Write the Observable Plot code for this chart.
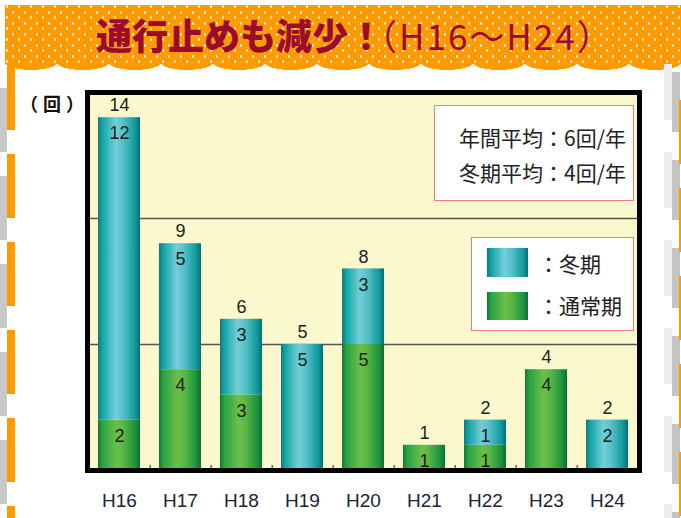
<!DOCTYPE html>
<html><head><meta charset="utf-8">
<script src="https://cdn.jsdelivr.net/npm/d3@7"></script>
<script src="https://cdn.jsdelivr.net/npm/@observablehq/plot@0.6"></script>
<style>
body{margin:0;background:#fff;width:681px;height:518px;overflow:hidden;position:relative;font-family:"Noto Sans CJK JP",sans-serif;}
.abs{position:absolute;}
#banner{left:5px;top:5px;width:676px;height:59px;background-color:#ff9a00;
 background-image:radial-gradient(circle, rgba(255,255,255,0.9) 0.9px, transparent 1.5px),radial-gradient(circle, rgba(255,255,255,0.9) 0.9px, transparent 1.5px);
 background-size:12px 11px;background-position:2px 2px,8px 7px;}
#scallop{left:5px;top:63px;width:676px;height:7px;background-image:radial-gradient(ellipse 26px 7px at 50% 0,#ff9a00 96%,transparent 100%);background-size:52px 7px;}
#title{left:96px;top:14px;white-space:nowrap;font-size:36px;line-height:40px;color:#9a0b2d;}
#title b{font-weight:900;}
#title span{font-size:35px;letter-spacing:2px;margin-left:-22px;}
#leftline{left:7px;top:66px;width:8px;height:452px;background:repeating-linear-gradient(to bottom,#ff9a00 0 64px,transparent 64px 88px);}
#leftgray{left:0;top:88px;width:7px;height:430px;background:repeating-linear-gradient(to bottom,#c8c8c8 0 64px,transparent 64px 88px);}
#rightgray{left:672px;top:72px;width:8px;height:446px;background:repeating-linear-gradient(to bottom,#c4c4c4 0 60px,transparent 60px 88px);}
#rightgray2{left:664px;top:64px;width:8px;height:454px;background:repeating-linear-gradient(to bottom,#eeeeee 0 56px,transparent 56px 88px);}
#rightline{left:679px;top:100px;width:2px;height:418px;background:repeating-linear-gradient(to bottom,#ff9a00 0 64px,transparent 64px 88px);}
#unit{left:20px;top:92px;font-size:18px;font-weight:700;line-height:22px;color:#111;letter-spacing:5px;}
.box{background:#fff;border:1.5px solid #ef7d7d;box-sizing:border-box;}
#box1{left:434px;top:105px;width:200px;height:96px;}
#box2{left:471px;top:237px;width:163px;height:94px;}
.ltxt{font-size:21px;line-height:26px;color:#222;white-space:nowrap;}
.sw{width:41px;height:29px;}
#chart{left:0;top:70px;}
</style></head>
<body>
<div id="banner" class="abs"></div>
<div id="scallop" class="abs"></div>
<div id="title" class="abs"><b>通行止めも減少！</b><span>（H16〜H24）</span></div>
<div id="leftgray" class="abs"></div>
<div id="leftline" class="abs"></div>
<div id="rightgray2" class="abs"></div>
<div id="rightgray" class="abs"></div>
<div id="rightline" class="abs"></div>
<div id="unit" class="abs">（回）</div>
<div id="chart" class="abs"></div>
<div id="box1" class="abs box"></div>
<div class="abs ltxt" style="right:55px;top:124px;">年間平均：6回/年</div>
<div class="abs ltxt" style="right:55px;top:159px;">冬期平均：4回/年</div>
<div id="box2" class="abs box"></div>
<div class="abs sw" style="left:487px;top:248px;background:linear-gradient(to right,#0a7b7d 0%,#13a3a5 10%,#72cfd7 42%,#56c0c8 60%,#119a9c 88%,#086f70 100%);"></div>
<div class="abs sw" style="left:487px;top:292px;height:28px;background:linear-gradient(to right,#0d7a36 0%,#2aa243 10%,#6cc04a 45%,#5bb645 60%,#1e9440 88%,#0b6e32 100%);"></div>
<div class="abs ltxt" style="left:538px;top:250px;">：冬期</div>
<div class="abs ltxt" style="left:538px;top:292px;">：通常期</div>
<script>
const years = ["H16","H17","H18","H19","H20","H21","H22","H23","H24"];
const normalValues = [2,4,3,0,5,1,1,4,0];   // 通常期
const winterValues = [12,5,3,5,3,0,1,0,2];  // 冬期
const totalValues = [14,9,6,5,8,1,2,4,2];
const seriesNames = ["通常期","冬期"];
const gridValues = [5,10];

const rows = [];
years.forEach((y,i)=>{
  rows.push({year:y, series:"通常期", value:normalValues[i]});
  rows.push({year:y, series:"冬期", value:winterValues[i]});
});
const totals = years.map((y,i)=>({year:y, total:totalValues[i]}));

const W=681,H=448,ML=87,MR=42,MT=22,MB=48;
const step=(W-ML-MR)/years.length;
const numFont='"Liberation Sans", Arial, sans-serif';

const plot = Plot.plot({
  width:W, height:H, marginLeft:ML, marginRight:MR, marginTop:MT, marginBottom:MB,
  style:{background:"transparent", fontFamily:numFont, fontSize:"18px", overflow:"visible"},
  x:{domain:years, paddingInner:0.31, paddingOuter:0.155, axis:null},
  y:{domain:[0,15], axis:null},
  color:{type:"ordinal", domain:seriesNames, range:["url(#gGreen)","url(#gTeal)"]},
  marks:[
    Plot.frame({fill:"#fbf8cd", stroke:null}),
    Plot.ruleY(gridValues,{stroke:"#555", strokeWidth:1.5}),
    Plot.barY(rows,{x:"year", y:"value", fill:"series", z:"series", order:seriesNames}),
    Plot.ruleX(years.slice(0,-1),{x:d=>d, dx:step/2, insetTop:H-MT-MB-5, stroke:"#222", strokeWidth:1}),
    Plot.text(rows, Plot.stackY2({x:"year", y:"value", z:"series", order:seriesNames, text:d=>d.value>0?String(d.value):"", dy:16, fill:"#222", fontSize:18})),
    Plot.text(totals,{x:"year", y:"total", text:"total", dy:-12, fill:"#222", fontSize:18}),
    Plot.axisX({tickSize:0, tickPadding:23, fill:"#1d2236", fontSize:19, fontFamily:numFont, label:null}),
    Plot.frame({stroke:"#000", strokeWidth:5})
  ]
});

const svg = d3.select(plot);
const defs = svg.insert("defs",":first-child");
function grad(id, stops){
  const g = defs.append("linearGradient").attr("id",id).attr("x1",0).attr("x2",1).attr("y1",0).attr("y2",0);
  stops.forEach(([o,c])=>g.append("stop").attr("offset",o).attr("stop-color",c));
}
grad("gTeal",[[0,"#0a7b7d"],[0.1,"#13a3a5"],[0.42,"#72cfd7"],[0.6,"#56c0c8"],[0.88,"#119a9c"],[1,"#086f70"]]);
grad("gGreen",[[0,"#0d7a36"],[0.1,"#2aa243"],[0.45,"#6cc04a"],[0.6,"#5bb645"],[0.88,"#1e9440"],[1,"#0b6e32"]]);
document.getElementById("chart").appendChild(plot);
</script>
</body></html>
